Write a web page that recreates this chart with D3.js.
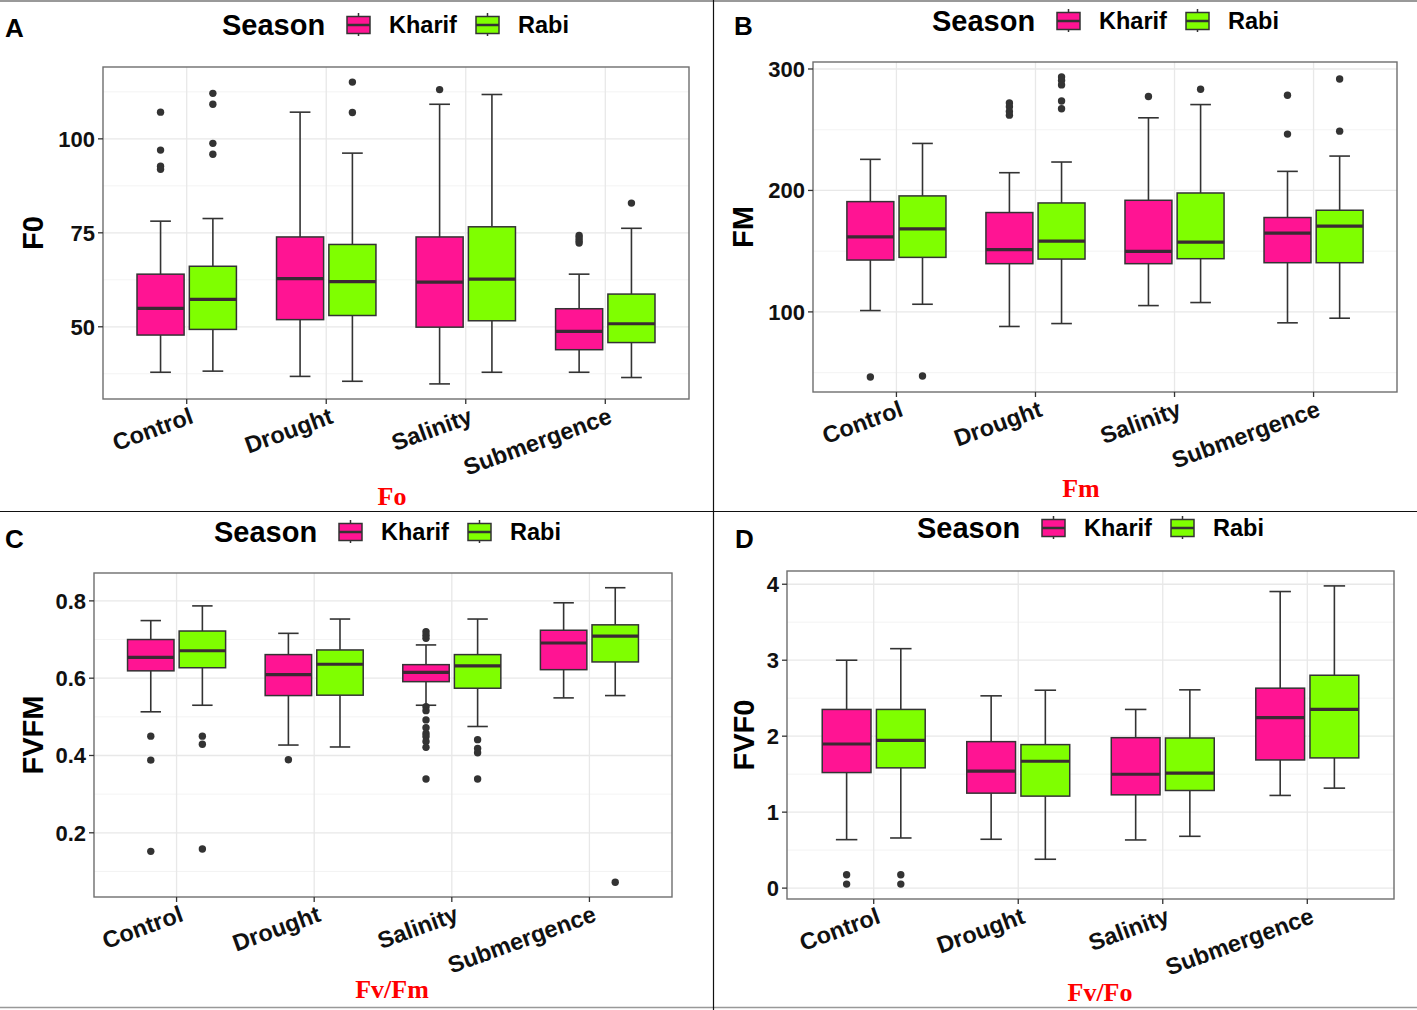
<!DOCTYPE html>
<html>
<head>
<meta charset="utf-8">
<script src="https://cdn.jsdelivr.net/npm/d3@7"></script>
<style>
  body { margin: 0; background: #fff; }
  svg { display: block; }
  text { font-family: "Liberation Sans", Arial, sans-serif; font-weight: bold; }
</style>
</head>
<body>
<svg id="fig" width="1417" height="1010"></svg>
<script>
const categories = ["Control", "Drought", "Salinity", "Submergence"];
const seasons = ["Kharif", "Rabi"];
const seasonColors = ["#ff1493", "#7fff00"];

// each row: [lower whisker, Q1, median, Q3, upper whisker]
const f0Kharif = [[37.9, 47.8, 54.9, 64.0, 78.1], [36.8, 51.9, 62.8, 73.9, 107.1], [34.8, 49.9, 61.9, 73.9, 109.2], [37.9, 43.9, 48.8, 54.8, 64.0]];
const f0Rabi   = [[38.2, 49.3, 57.3, 66.1, 78.8], [35.5, 53.0, 62.0, 71.9, 96.2], [37.9, 51.6, 62.7, 76.6, 111.8], [36.5, 45.8, 50.8, 58.7, 76.2]];
const f0KharifOut = [[107.1, 97.0, 92.7, 91.9], [], [113.1], [74.3, 73.6, 72.9, 72.3]];
const f0RabiOut   = [[112.1, 109.2, 98.8, 95.9], [115.1, 107.0], [], [82.9]];
const f0Ticks = [50, 75, 100];

const fmKharif = [[101.1, 142.7, 161.8, 190.8, 225.6], [88.0, 139.7, 151.2, 181.8, 214.6], [105.2, 139.7, 149.8, 191.9, 259.8], [91.0, 140.5, 164.8, 177.7, 215.7]];
const fmRabi   = [[106.3, 144.9, 168.4, 195.5, 238.7], [90.4, 143.5, 158.3, 189.7, 223.4], [107.7, 143.8, 157.5, 197.9, 270.7], [94.8, 140.5, 170.6, 183.7, 228.3]];
const fmKharifOut = [[46.4], [272.0, 269.0, 265.0, 262.0], [277.3], [278.4, 246.4]];
const fmRabiOut   = [[47.2], [293.4, 290.5, 286.9, 273.7, 267.2], [283.3], [291.8, 248.8]];
const fmTicks = [100, 200, 300];

const fvfmKharif = [[0.513, 0.619, 0.654, 0.700, 0.749], [0.427, 0.555, 0.609, 0.661, 0.716], [0.530, 0.591, 0.615, 0.635, 0.686], [0.549, 0.622, 0.691, 0.724, 0.795]];
const fvfmRabi   = [[0.530, 0.627, 0.671, 0.722, 0.787], [0.422, 0.556, 0.636, 0.673, 0.753], [0.475, 0.574, 0.632, 0.661, 0.753], [0.555, 0.642, 0.709, 0.738, 0.834]];
const fvfmKharifOut = [[0.450, 0.388, 0.152], [0.389], [0.720, 0.711, 0.703, 0.526, 0.516, 0.492, 0.472, 0.457, 0.449, 0.436, 0.421, 0.339], []];
const fvfmRabiOut   = [[0.450, 0.429, 0.158], [], [0.441, 0.418, 0.407, 0.339], [0.072]];
const fvfmTicks = [0.2, 0.4, 0.6, 0.8];

const fvf0Kharif = [[0.638, 1.521, 1.897, 2.352, 3.000], [0.643, 1.250, 1.539, 1.928, 2.531], [0.634, 1.228, 1.499, 1.980, 2.352], [1.220, 1.687, 2.243, 2.632, 3.904]];
const fvf0Rabi   = [[0.660, 1.583, 1.945, 2.352, 3.152], [0.380, 1.211, 1.670, 1.889, 2.605], [0.682, 1.285, 1.513, 1.976, 2.610], [1.316, 1.714, 2.352, 2.802, 3.978]];
const fvf0KharifOut = [[0.175, 0.053], [], [], []];
const fvf0RabiOut   = [[0.175, 0.053], [], [], []];
const fvf0Ticks = [0, 1, 2, 3, 4];

const panels = [
  { letter: "A", yTitle: "F0", caption: "Fo", stats: [f0Kharif, f0Rabi], outs: [f0KharifOut, f0RabiOut], ticks: f0Ticks, fmt: d3.format("d"),
    box: [103, 67, 689, 399], letterAt: [5, 37], legendAt: [222, 25], titleX: 33, captionAt: [392, 505] },
  { letter: "B", yTitle: "FM", caption: "Fm", stats: [fmKharif, fmRabi], outs: [fmKharifOut, fmRabiOut], ticks: fmTicks, fmt: d3.format("d"),
    box: [813, 62, 1397, 392], letterAt: [734, 35], legendAt: [932, 21], titleX: 743, captionAt: [1081, 497] },
  { letter: "C", yTitle: "FVFM", caption: "Fv/Fm", stats: [fvfmKharif, fvfmRabi], outs: [fvfmKharifOut, fvfmRabiOut], ticks: fvfmTicks, fmt: d3.format(".1f"),
    box: [94, 573, 672, 897], letterAt: [5, 548], legendAt: [214, 532], titleX: 33, captionAt: [392, 998] },
  { letter: "D", yTitle: "FVF0", caption: "Fv/Fo", stats: [fvf0Kharif, fvf0Rabi], outs: [fvf0KharifOut, fvf0RabiOut], ticks: fvf0Ticks, fmt: d3.format("d"),
    box: [787, 571, 1394, 899], letterAt: [735, 548], legendAt: [917, 528], titleX: 744, captionAt: [1100, 1001] }
];

const svg = d3.select("#fig");
svg.append("rect").attr("width", 1417).attr("height", 1010).attr("fill", "#fff");

// frame lines between panels
svg.append("line").attr("x1", 0).attr("x2", 1417).attr("y1", 1).attr("y2", 1).attr("stroke", "#777").attr("stroke-width", 1.5);
svg.append("line").attr("x1", 0).attr("x2", 1417).attr("y1", 1007.5).attr("y2", 1007.5).attr("stroke", "#999").attr("stroke-width", 1.5);
svg.append("line").attr("x1", 0).attr("x2", 1417).attr("y1", 511.5).attr("y2", 511.5).attr("stroke", "#111").attr("stroke-width", 1.2);
svg.append("line").attr("x1", 713.5).attr("x2", 713.5).attr("y1", 0).attr("y2", 1010).attr("stroke", "#111").attr("stroke-width", 1.2);

panels.forEach(drawPanel);

function drawPanel(p) {
  const [x0, y0, x1, y1] = p.box;
  const g = svg.append("g");

  // ggplot-like 5% expansion of the data range
  const all = [];
  p.stats.forEach(s => s.forEach(r => all.push(r[0], r[4])));
  p.outs.forEach(s => s.forEach(r => all.push(...r)));
  const lo = d3.min(all), hi = d3.max(all), pad = (hi - lo) * 0.05;

  const y = d3.scaleLinear().domain([lo - pad, hi + pad]).range([y1, y0]);
  const x = d3.scaleBand().domain(categories).range([x0, x1]).paddingInner(0).paddingOuter(0.1);
  const step = x.bandwidth();
  const sub = d3.scaleBand().domain(seasons).range([0, step * 0.75]).paddingInner(0.1).paddingOuter(0.05);
  const bw = sub.bandwidth();
  const cx = c => x(c) + step / 2;

  // minor grid
  const tStep = p.ticks[1] - p.ticks[0];
  const minor = [p.ticks[0] - tStep / 2].concat(p.ticks.map(t => t + tStep / 2))
    .filter(v => v > y.domain()[0] && v < y.domain()[1]);
  g.selectAll(".minor").data(minor).enter().append("line")
    .attr("x1", x0).attr("x2", x1).attr("y1", d => y(d)).attr("y2", d => y(d))
    .attr("stroke", "#f0f0f0").attr("stroke-width", 0.8);
  // major grid
  g.selectAll(".hmajor").data(p.ticks).enter().append("line")
    .attr("x1", x0).attr("x2", x1).attr("y1", d => y(d)).attr("y2", d => y(d))
    .attr("stroke", "#e8e8e8").attr("stroke-width", 1.3);
  g.selectAll(".vmajor").data(categories).enter().append("line")
    .attr("x1", cx).attr("x2", cx).attr("y1", y0).attr("y2", y1)
    .attr("stroke", "#e8e8e8").attr("stroke-width", 1.3);

  // boxes
  seasons.forEach((s, si) => {
    const off = sub(s) - step * 0.375;
    p.stats[si].forEach((r, ci) => {
      const c = cx(categories[ci]) + off + bw / 2;
      const [lw, q1, md, q3, uw] = r;
      const bg = g.append("g");
      bg.append("line").attr("x1", c).attr("x2", c).attr("y1", y(lw)).attr("y2", y(q1)).attr("stroke", "#333").attr("stroke-width", 1.6);
      bg.append("line").attr("x1", c).attr("x2", c).attr("y1", y(q3)).attr("y2", y(uw)).attr("stroke", "#333").attr("stroke-width", 1.6);
      bg.append("line").attr("x1", c - bw * 0.22).attr("x2", c + bw * 0.22).attr("y1", y(lw)).attr("y2", y(lw)).attr("stroke", "#333").attr("stroke-width", 1.6);
      bg.append("line").attr("x1", c - bw * 0.22).attr("x2", c + bw * 0.22).attr("y1", y(uw)).attr("y2", y(uw)).attr("stroke", "#333").attr("stroke-width", 1.6);
      bg.append("rect").attr("x", c - bw / 2).attr("y", y(q3)).attr("width", bw).attr("height", y(q1) - y(q3))
        .attr("fill", seasonColors[si]).attr("stroke", "#333").attr("stroke-width", 1.5);
      bg.append("line").attr("x1", c - bw / 2).attr("x2", c + bw / 2).attr("y1", y(md)).attr("y2", y(md))
        .attr("stroke", "#3a2a33").attr("stroke-width", 3.2);
      bg.selectAll("circle").data(p.outs[si][ci]).enter().append("circle")
        .attr("cx", c).attr("cy", d => y(d)).attr("r", 3.7).attr("fill", "#333");
    });
  });

  // panel border
  g.append("rect").attr("x", x0).attr("y", y0).attr("width", x1 - x0).attr("height", y1 - y0)
    .attr("fill", "none").attr("stroke", "#6e6e6e").attr("stroke-width", 1.4);

  // y axis ticks + labels
  g.selectAll(".yt").data(p.ticks).enter().append("line")
    .attr("x1", x0 - 5).attr("x2", x0).attr("y1", d => y(d)).attr("y2", d => y(d)).attr("stroke", "#333").attr("stroke-width", 1.3);
  g.selectAll(".yl").data(p.ticks).enter().append("text")
    .attr("x", x0 - 8).attr("y", d => y(d)).attr("dy", "0.36em").attr("text-anchor", "end")
    .attr("font-size", 22).attr("fill", "#111").text(p.fmt);

  // x axis ticks + rotated labels
  g.selectAll(".xt").data(categories).enter().append("line")
    .attr("x1", cx).attr("x2", cx).attr("y1", y1).attr("y2", y1 + 5).attr("stroke", "#333").attr("stroke-width", 1.3);
  g.selectAll(".xl").data(categories).enter().append("text")
    .attr("transform", d => `translate(${cx(d) + 2},${y1 + 7}) rotate(-20)`)
    .attr("dy", "0.75em").attr("text-anchor", "end").attr("font-size", 23.5).attr("fill", "#111").text(d => d);

  // y title
  g.append("text").attr("transform", `translate(${p.titleX},${(y0 + y1) / 2}) rotate(-90)`)
    .attr("dy", "0.36em").attr("text-anchor", "middle").attr("font-size", 29).attr("fill", "#000").text(p.yTitle);

  // panel letter
  g.append("text").attr("x", p.letterAt[0]).attr("y", p.letterAt[1]).attr("font-size", 26).attr("fill", "#000").text(p.letter);

  // red caption
  g.append("text").attr("x", p.captionAt[0]).attr("y", p.captionAt[1]).attr("text-anchor", "middle")
    .style("font-family", "'Liberation Serif', 'Times New Roman', serif").attr("font-size", 26).attr("fill", "#ff0000").text(p.caption);

  // legend
  const [lx, ly] = p.legendAt;
  const lg = g.append("g");
  lg.append("text").attr("x", lx).attr("y", ly).attr("dy", "0.36em").attr("font-size", 29).attr("fill", "#000").text("Season");
  const keyX = [125, 254], labX = [167, 296];
  seasons.forEach((s, si) => {
    const kx = lx + keyX[si] + 11.5;
    lg.append("line").attr("x1", kx).attr("x2", kx).attr("y1", ly - 12).attr("y2", ly + 11).attr("stroke", "#333").attr("stroke-width", 1.5);
    lg.append("rect").attr("x", kx - 11.5).attr("y", ly - 8.5).attr("width", 23).attr("height", 17)
      .attr("fill", seasonColors[si]).attr("stroke", "#333").attr("stroke-width", 1.5);
    lg.append("line").attr("x1", kx - 11.5).attr("x2", kx + 11.5).attr("y1", ly).attr("y2", ly).attr("stroke", "#333").attr("stroke-width", 2.5);
    lg.append("text").attr("x", lx + labX[si]).attr("y", ly).attr("dy", "0.36em").attr("font-size", 23.5).attr("fill", "#000").text(s);
  });
}
</script>
</body>
</html>
